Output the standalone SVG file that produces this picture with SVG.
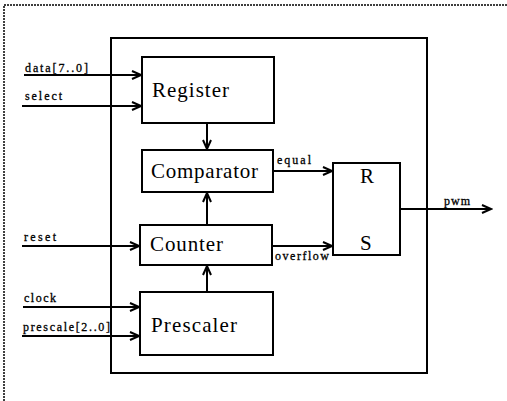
<svg xmlns="http://www.w3.org/2000/svg" width="507" height="401" viewBox="0 0 507 401">
<style>
.box{fill:#fff;stroke:#000;stroke-width:2}
.frame{fill:none;stroke:#000;stroke-width:1.5;stroke-dasharray:2 1}
.w{fill:none;stroke:#000;stroke-width:2}
.big{font-family:"Liberation Serif",serif;font-size:21px;fill:#000}
.sm{font-family:"Liberation Serif",serif;font-size:12px;fill:#000;stroke:#000;stroke-width:0.3}
</style>
<defs>
<marker id="ah" markerWidth="12" markerHeight="10" refX="10" refY="5" orient="auto" markerUnits="userSpaceOnUse">
<path d="M1,1 L10,5 L1,9" fill="none" stroke="#000" stroke-width="2"/>
</marker>
</defs>
<rect width="507" height="401" fill="#fff"/>
<path class="frame" d="M4,401 L4,5 L507,5"/>
<rect id="container" x="111" y="38" width="316" height="335" fill="none" stroke="#000" stroke-width="2"/>
<g id="register"><rect class="box" x="142" y="57" width="132" height="66"/><text class="big" x="152" y="97" textLength="77">Register</text></g>
<g id="comparator"><rect class="box" x="142" y="150" width="131" height="42"/><text class="big" x="151" y="178" textLength="107">Comparator</text></g>
<g id="counter"><rect class="box" x="140" y="225" width="132" height="40"/><text class="big" x="150" y="251" textLength="73">Counter</text></g>
<g id="prescaler"><rect class="box" x="140" y="292" width="133" height="63"/><text class="big" x="151" y="332" textLength="86" font-size="22">Prescaler</text></g>
<g id="rs"><rect class="box" x="333" y="163" width="67" height="92"/><text class="big" x="360" y="183" font-size="18">R</text><text class="big" x="360" y="250" font-size="18">S</text></g>
<g id="connectors">
<line class="w" x1="24" y1="75" x2="141" y2="75" marker-end="url(#ah)"/>
<line class="w" x1="22" y1="106" x2="141" y2="106" marker-end="url(#ah)"/>
<line class="w" x1="22" y1="246" x2="139" y2="246" marker-end="url(#ah)"/>
<line class="w" x1="23" y1="307" x2="139" y2="307" marker-end="url(#ah)"/>
<line class="w" x1="22" y1="336" x2="139" y2="336" marker-end="url(#ah)"/>
<line class="w" x1="207" y1="123" x2="207" y2="149" marker-end="url(#ah)"/>
<line class="w" x1="207" y1="225" x2="207" y2="193" marker-end="url(#ah)"/>
<line class="w" x1="207" y1="292" x2="207" y2="266" marker-end="url(#ah)"/>
<line class="w" x1="273" y1="171" x2="332" y2="171" marker-end="url(#ah)"/>
<line class="w" x1="272" y1="246" x2="332" y2="246" marker-end="url(#ah)"/>
<line class="w" x1="400" y1="209" x2="491" y2="209" marker-end="url(#ah)"/>
</g>
<g id="labels">
<text class="sm" x="25" y="72" textLength="63">data[7..0]</text>
<text class="sm" x="25" y="100" textLength="37">select</text>
<text class="sm" x="24" y="241" textLength="32">reset</text>
<text class="sm" x="24" y="302" textLength="32">clock</text>
<text class="sm" x="23" y="331" textLength="87">prescale[2..0]</text>
<text class="sm" x="277" y="164" textLength="34">equal</text>
<text class="sm" x="275" y="260" textLength="54">overflow</text>
<text class="sm" x="444" y="205" textLength="26">pwm</text>
</g>
</svg>
